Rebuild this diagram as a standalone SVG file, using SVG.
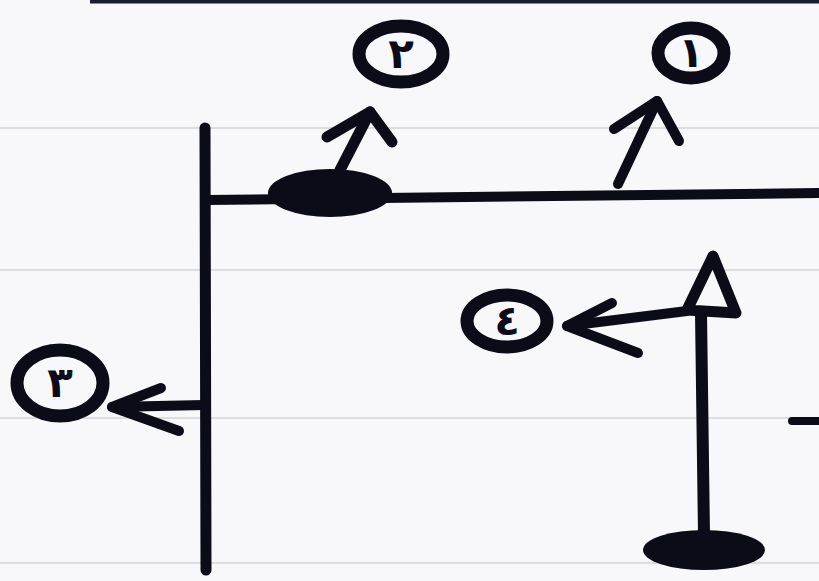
<svg xmlns="http://www.w3.org/2000/svg" width="819" height="581" viewBox="0 0 819 581">
<style>
.ink{fill:none;stroke:#0c0c18;stroke-linecap:round;stroke-linejoin:round}
.blob{fill:#0c0c18}
.ring{fill:none;stroke:#0c0c18;stroke-width:13}
.num{font-family:"DejaVu Sans",sans-serif;font-weight:bold;font-size:42px;fill:#0c0c18;text-anchor:middle}
.rule{stroke:#dcdde1;stroke-width:2;fill:none}
</style>
<rect width="819" height="581" fill="#f8f8fa"/>
<g id="paper">
<path class="rule" d="M0,128 H819"/>
<path class="rule" d="M0,270 H819"/>
<path class="rule" d="M0,418 H819"/>
<path class="rule" d="M0,563 H819"/>
<path d="M90,1.5 H819" stroke="#1a1d30" stroke-width="4"/>
</g>
<g id="frame">
<path class="ink" stroke-width="11" d="M205,128 L206,570"/>
<path class="ink" stroke-width="10" d="M206,200 L819,193"/>
<ellipse class="blob" cx="330" cy="193" rx="62" ry="24"/>
</g>
<g id="lamp">
<path class="ink" stroke-width="12" d="M701,313 L704,535"/>
<ellipse class="blob" cx="704" cy="550" rx="61" ry="20"/>
<path class="ink" stroke-width="11" d="M713,256 L687,310 L736,313 Z"/>
</g>
<g id="dash">
<path class="ink" stroke-width="8" d="M792,421 H819"/>
</g>
<g id="n1">
<ellipse class="ring" cx="691" cy="53" rx="33" ry="25"/>
<text class="num" x="691" y="67">١</text>
</g>
<g id="n2">
<ellipse class="ring" cx="401" cy="54" rx="42" ry="28"/>
<text class="num" x="401" y="68">٢</text>
</g>
<g id="n3">
<ellipse class="ring" cx="60" cy="383" rx="43" ry="33"/>
<text class="num" x="60" y="397">٣</text>
</g>
<g id="n4">
<ellipse class="ring" cx="507" cy="321" rx="40" ry="26"/>
<text class="num" x="507" y="335">٤</text>
</g>
<g id="connectors">
<path class="ink" stroke-width="11" d="M340,170 L370,112"/>
<path class="ink" stroke-width="11" d="M327,137 L370,112 L392,142"/>
<path class="ink" stroke-width="10" d="M618,184 L657,101"/>
<path class="ink" stroke-width="10" d="M614,129 L657,101 L679,141"/>
<path class="ink" stroke-width="10" d="M687,311 L567,326"/>
<path class="ink" stroke-width="10" d="M612,303 L567,326 L638,353"/>
<path class="ink" stroke-width="10" d="M204,405 L112,407"/>
<path class="ink" stroke-width="10" d="M161,388 L112,407 L179,431"/>
</g>
</svg>
